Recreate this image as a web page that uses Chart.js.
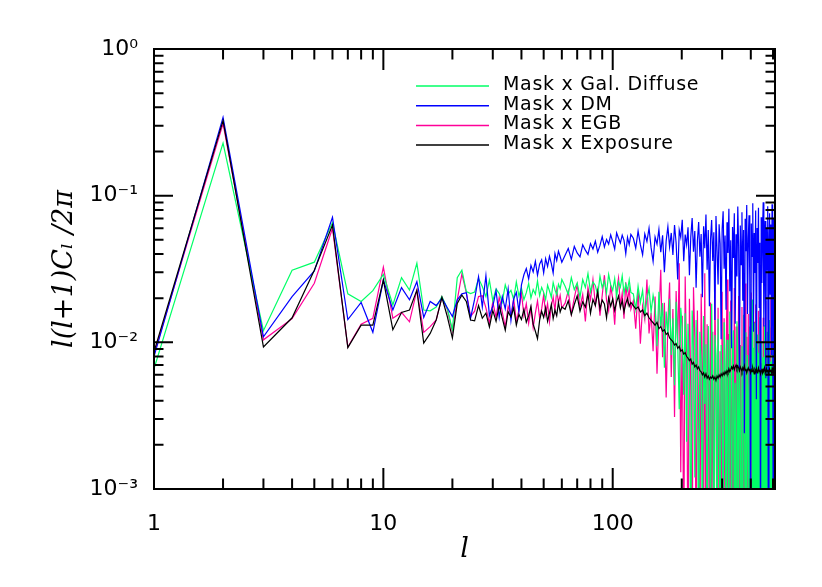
<!DOCTYPE html>
<html>
<head>
<meta charset="utf-8">
<script src="https://cdn.jsdelivr.net/npm/chart.js@4.4.1/dist/chart.umd.min.js"></script>
<style>
  body { margin: 0; background: #fff; }
  canvas { display: block; }
</style>
</head>
<body>
<canvas id="chart" width="822" height="587"></canvas>
<script>
// multipoles l
var ells = [
  1,2,3,4,5,6,7,8,9,10,11,12,13,14,15,16,17,18,19,20,
  21,22,23,24,25,26,27,28,29,30,31,32,33,34,35,36,37,38,39,40,
  41,42,43,44,45,46,47,48,49,50,51,52,53,54,55,56,57,58,59,60,
  62,64,66,68,70,72,74,76,78,80,82,84,86,88,90,92,94,96,98,100,
  102,104,106,108,110,112,114,116,118,120,
  123,126,129,132,135,138,141,144,147,150, 153,156,159,162,165,168,171,174,177,180,
  183,186,189,192,195,198,201,204,207,210, 213,216,219,222,225,228,231,234,237,240,
  243,246,249,252,255,258,261,264,267,270, 273,276,279,282,285,288,291,294,297,300,
  303,306,309,312,315,318,321,324,327,330, 333,336,339,342,345,348,351,354,357,360,
  363,366,369,372,375,378,381,384,387,390, 393,396,399,402,405,408,411,414,417,420,
  423,426,429,432,435,438,441,444,447,450, 453,456,459,462,465,468,471,474,477,480,
  483,486,489,492,495,498,501,504,507,510
];

// Mask x Gal. Diffuse
var galDiffuse = [
  0.0066, 0.228, 0.0120, 0.0310, 0.0352, 0.0655, 0.0214, 0.0190, 0.0225, 0.0290,
  0.0180, 0.0276, 0.0227, 0.0346, 0.0166, 0.0164, 0.0174, 0.0205, 0.0170, 0.0122,
  0.0276, 0.0311, 0.0222, 0.0215, 0.0220, 0.0273, 0.0240, 0.0205, 0.0265, 0.0192,
  0.0231, 0.0215, 0.0188, 0.0247, 0.0213, 0.0226, 0.0196, 0.0258, 0.0207, 0.0234,
  0.0195, 0.0218, 0.0252, 0.0201, 0.0229, 0.0213, 0.0262, 0.0208, 0.0237, 0.0219,
  0.0196, 0.0245, 0.0224, 0.0203, 0.0256, 0.0228, 0.0211, 0.0249, 0.0232, 0.0268,
  0.0241, 0.0212, 0.0276, 0.0229, 0.0254, 0.0203, 0.0268, 0.0237, 0.0295, 0.0221,
  0.0258, 0.0244, 0.0209, 0.0283, 0.0236, 0.0262, 0.0218, 0.0291, 0.0247, 0.0226,
  0.0272, 0.0205, 0.0259, 0.0238, 0.0284, 0.0215, 0.0249, 0.0226, 0.0267, 0.0219,
  0.0214, 0.0168, 0.0241, 0.0187, 0.0226, 0.0152, 0.0198, 0.0233, 0.0161, 0.0209,
  0.0176, 0.0094, 0.0221, 0.0128, 0.0185, 0.0067, 0.0162, 0.0113, 0.0198, 0.0082,
  0.0146, 0.0051, 0.0189, 0.0098, 0.0035, 0.0172, 0.0123, 0.0044, 0.0158, 0.0021,
  0.0134, 0.0068, 0.0003, 0.0165, 0.0089, 0.0012, 0.0142, 0.0056, 0.0003, 0.0118,
  0.0074, 0.0003, 0.0151, 0.0038, 0.0097, 0.0003, 0.0129, 0.0061, 0.0003, 0.0183,
  0.0047, 0.0003, 0.0112, 0.0081, 0.0003, 0.0145, 0.0026, 0.0003, 0.0096, 0.0058,
  0.0003, 0.0137, 0.0069, 0.0003, 0.0104, 0.0017, 0.0003, 0.0162, 0.0043, 0.0003,
  0.0088, 0.0121, 0.0003, 0.0053, 0.0003, 0.0139, 0.0076, 0.0003, 0.0108, 0.0031,
  0.0003, 0.0094, 0.0003, 0.0154, 0.0064, 0.0003, 0.0117, 0.0003, 0.0082, 0.0045,
  0.0003, 0.0128, 0.0003, 0.0071, 0.0196, 0.0003, 0.0092, 0.0003, 0.0136, 0.0058,
  0.0003, 0.0113, 0.0003, 0.0085, 0.0003, 0.0148, 0.0037, 0.0003, 0.0102, 0.0003,
  0.0079, 0.0003, 0.0131, 0.0003, 0.0066, 0.0003, 0.0118, 0.0003, 0.0091, 0.0003,
  0.0142, 0.0003, 0.0074, 0.0003, 0.0108, 0.0003, 0.0061, 0.0003, 0.0125, 0.0003
];

// Mask x DM
var dm = [
  0.0080, 0.342, 0.0109, 0.0205, 0.0307, 0.0713, 0.0143, 0.0187, 0.0117, 0.0266,
  0.0166, 0.0236, 0.0195, 0.0259, 0.0148, 0.0190, 0.0178, 0.0200, 0.0172, 0.0150,
  0.0195, 0.0214, 0.0218, 0.0146, 0.0197, 0.0280, 0.0174, 0.0285, 0.0152, 0.0176,
  0.0224, 0.0148, 0.0205, 0.0169, 0.0231, 0.0141, 0.0198, 0.0219, 0.0162, 0.0247,
  0.0289, 0.0318, 0.0271, 0.0335, 0.0302, 0.0356, 0.0287, 0.0341, 0.0365, 0.0298,
  0.0372, 0.0329, 0.0386, 0.0344, 0.0297, 0.0403, 0.0362, 0.0418, 0.0385, 0.0351,
  0.0392, 0.0436, 0.0368, 0.0451, 0.0407, 0.0383, 0.0462, 0.0425, 0.0398, 0.0471,
  0.0433, 0.0489, 0.0412, 0.0458, 0.0526, 0.0447, 0.0503, 0.0468, 0.0541, 0.0486,
  0.0432, 0.0557, 0.0512, 0.0475, 0.0538, 0.0496, 0.0402, 0.0519, 0.0463, 0.0545,
  0.0512, 0.0438, 0.0574, 0.0463, 0.0395, 0.0548, 0.0487, 0.0601, 0.0442, 0.0356,
  0.0523, 0.0467, 0.0589, 0.0412, 0.0536, 0.0301, 0.0492, 0.0615, 0.0448, 0.0557,
  0.0394, 0.0631, 0.0476, 0.0268, 0.0582, 0.0519, 0.0685, 0.0357, 0.0543, 0.0462,
  0.0608, 0.0287, 0.0526, 0.0704, 0.0415, 0.0573, 0.0236, 0.0491, 0.0662, 0.0384,
  0.0547, 0.0203, 0.0619, 0.0438, 0.0745, 0.0312, 0.0584, 0.0176, 0.0502, 0.0681,
  0.0359, 0.0563, 0.0142, 0.0727, 0.0426, 0.0248, 0.0638, 0.0471, 0.0105, 0.0592,
  0.0783, 0.0318, 0.0534, 0.0167, 0.0659, 0.0406, 0.0814, 0.0223, 0.0497, 0.0091,
  0.0612, 0.0376, 0.0758, 0.0134, 0.0545, 0.0281, 0.0842, 0.0452, 0.0063, 0.0626,
  0.0339, 0.0771, 0.0192, 0.0583, 0.0024, 0.0695, 0.0418, 0.0865, 0.0156, 0.0514,
  0.0734, 0.0262, 0.0003, 0.0647, 0.0385, 0.0889, 0.0118, 0.0556, 0.0297, 0.0792,
  0.0041, 0.0603, 0.0347, 0.0826, 0.0173, 0.0478, 0.0003, 0.0712, 0.0254, 0.0568,
  0.0903, 0.0128, 0.0435, 0.0671, 0.0057, 0.0592, 0.0312, 0.0847, 0.0003, 0.0496,
  0.0758, 0.0213, 0.0637, 0.0082, 0.0874, 0.0389, 0.0003, 0.0695, 0.0268, 0.0543
];

// Mask x EGB
var egb = [
  0.0083, 0.310, 0.0104, 0.0145, 0.0253, 0.0600, 0.0093, 0.0133, 0.0146, 0.0326,
  0.0146, 0.0160, 0.0138, 0.0227, 0.0117, 0.0128, 0.0142, 0.0203, 0.0168, 0.0118,
  0.0195, 0.0293, 0.0218, 0.0150, 0.0163, 0.0205, 0.0208, 0.0172, 0.0135, 0.0189,
  0.0148, 0.0203, 0.0161, 0.0127, 0.0176, 0.0154, 0.0198, 0.0139, 0.0166, 0.0218,
  0.0152, 0.0183, 0.0135, 0.0171, 0.0126, 0.0158, 0.0192, 0.0147, 0.0169, 0.0211,
  0.0155, 0.0184, 0.0138, 0.0176, 0.0203, 0.0164, 0.0228, 0.0187, 0.0209, 0.0171,
  0.0185, 0.0224, 0.0156, 0.0201, 0.0248, 0.0173, 0.0212, 0.0139, 0.0236, 0.0195,
  0.0268, 0.0181, 0.0227, 0.0152, 0.0209, 0.0287, 0.0193, 0.0164, 0.0241, 0.0198,
  0.0132, 0.0225, 0.0274, 0.0178, 0.0216, 0.0145, 0.0257, 0.0189, 0.0231, 0.0168,
  0.0192, 0.0124, 0.0231, 0.0098, 0.0176, 0.0143, 0.0268, 0.0115, 0.0159, 0.0087,
  0.0205, 0.0061, 0.0148, 0.0312, 0.0079, 0.0186, 0.0042, 0.0137, 0.0256, 0.0058,
  0.0169, 0.0031, 0.0224, 0.0095, 0.0346, 0.0013, 0.0152, 0.0003, 0.0281, 0.0072,
  0.0003, 0.0198, 0.0047, 0.0003, 0.0237, 0.0108, 0.0003, 0.0165, 0.0025, 0.0003,
  0.0214, 0.0069, 0.0003, 0.0296, 0.0003, 0.0133, 0.0052, 0.0003, 0.0187, 0.0003,
  0.0118, 0.0003, 0.0249, 0.0036, 0.0003, 0.0172, 0.0003, 0.0087, 0.0003, 0.0221,
  0.0003, 0.0146, 0.0003, 0.0059, 0.0268, 0.0003, 0.0114, 0.0003, 0.0193, 0.0003,
  0.0077, 0.0003, 0.0235, 0.0003, 0.0128, 0.0003, 0.0041, 0.0207, 0.0003, 0.0096,
  0.0003, 0.0174, 0.0003, 0.0063, 0.0003, 0.0252, 0.0003, 0.0109, 0.0003, 0.0156,
  0.0003, 0.0084, 0.0003, 0.0219, 0.0003, 0.0047, 0.0003, 0.0138, 0.0003, 0.0181,
  0.0003, 0.0099, 0.0003, 0.0164, 0.0003, 0.0035, 0.0226, 0.0003, 0.0072, 0.0003,
  0.0147, 0.0003, 0.0058, 0.0003, 0.0191, 0.0003, 0.0103, 0.0003, 0.0031, 0.0003,
  0.0126, 0.0003, 0.0204, 0.0003, 0.0068, 0.0003, 0.0152, 0.0003, 0.0089, 0.0003
];

// Mask x Exposure
var exposure = [
  0.0086, 0.325, 0.0093, 0.0147, 0.0310, 0.0630, 0.0092, 0.0131, 0.0131, 0.0266,
  0.0122, 0.0160, 0.0166, 0.0227, 0.0099, 0.0115, 0.0142, 0.0203, 0.0150, 0.0107,
  0.0184, 0.0210, 0.0190, 0.0142, 0.0140, 0.0178, 0.0146, 0.0158, 0.0127, 0.0165,
  0.0139, 0.0178, 0.0146, 0.0121, 0.0162, 0.0149, 0.0172, 0.0131, 0.0155, 0.0143,
  0.0168, 0.0137, 0.0152, 0.0176, 0.0133, 0.0119, 0.0106, 0.0141, 0.0163, 0.0148,
  0.0172, 0.0139, 0.0158, 0.0181, 0.0145, 0.0166, 0.0152, 0.0187, 0.0161, 0.0174,
  0.0168, 0.0192, 0.0154, 0.0181, 0.0207, 0.0163, 0.0189, 0.0174, 0.0215, 0.0158,
  0.0196, 0.0178, 0.0221, 0.0169, 0.0194, 0.0183, 0.0147, 0.0201, 0.0176, 0.0198,
  0.0165, 0.0189, 0.0207, 0.0172, 0.0193, 0.0161, 0.0184, 0.0199, 0.0176, 0.0187,
  0.0178, 0.0169, 0.0174, 0.0161, 0.0166, 0.0152, 0.0158, 0.0147, 0.0141, 0.0136,
  0.0131, 0.0137, 0.0124, 0.0128, 0.0119, 0.0122, 0.0113, 0.0116, 0.0107, 0.0104,
  0.0101, 0.0096, 0.0098, 0.0091, 0.0094, 0.0087, 0.0089, 0.0083, 0.0085, 0.0080,
  0.0078, 0.0075, 0.0077, 0.0071, 0.0073, 0.0068, 0.0070, 0.0066, 0.0068, 0.0064,
  0.0063, 0.0060, 0.0062, 0.0058, 0.0061, 0.0057, 0.0059, 0.0056, 0.0058, 0.0057,
  0.0059, 0.0056, 0.0058, 0.0055, 0.0059, 0.0057, 0.0060, 0.0058, 0.0061, 0.0059,
  0.0062, 0.0060, 0.0063, 0.0061, 0.0064, 0.0062, 0.0066, 0.0063, 0.0065, 0.0068,
  0.0066, 0.0069, 0.0065, 0.0068, 0.0070, 0.0066, 0.0069, 0.0067, 0.0064, 0.0068,
  0.0066, 0.0063, 0.0067, 0.0065, 0.0069, 0.0064, 0.0066, 0.0062, 0.0065, 0.0067,
  0.0064, 0.0066, 0.0062, 0.0065, 0.0063, 0.0067, 0.0064, 0.0061, 0.0065, 0.0063,
  0.0066, 0.0062, 0.0064, 0.0067, 0.0063, 0.0065, 0.0061, 0.0064, 0.0066, 0.0062,
  0.0065, 0.0063, 0.0067, 0.0064, 0.0062, 0.0066, 0.0063, 0.0065, 0.0061, 0.0064,
  0.0066, 0.0063, 0.0065, 0.0062, 0.0066, 0.0064, 0.0067, 0.0063, 0.0065, 0.0066
];

// axis ticks
var xMajor = [1, 10, 100];
var xMajorLabels = ['1', '10', '100'];
var xMinor = [2, 3, 4, 5, 6, 7, 8, 9, 20, 30, 40, 50, 60, 70, 80, 90, 200, 300, 400, 500];
var yMajor = [0.001, 0.01, 0.1, 1];
var yMajorLabels = ['10\u207B\u00B3', '10\u207B\u00B2', '10\u207B\u00B9', '10\u2070'];
var yMinor = [0.002, 0.003, 0.004, 0.005, 0.006, 0.007, 0.008, 0.009,
              0.02, 0.03, 0.04, 0.05, 0.06, 0.07, 0.08, 0.09,
              0.2, 0.3, 0.4, 0.5, 0.6, 0.7, 0.8, 0.9];

function pts(vals) {
  return ells.map(function (l, i) { return { x: l, y: vals[i] }; });
}

function tickList(major, minor) {
  return major.concat(minor).sort(function (a, b) { return a - b; })
    .map(function (v) { return { value: v }; });
}

// box with inward ticks on all four sides (IDL style)
var framePlugin = {
  id: 'frame',
  afterDatasetsDraw: function (chart) {
    var ctx = chart.ctx, a = chart.chartArea;
    var sx = chart.scales.x, sy = chart.scales.y;
    ctx.save();
    ctx.strokeStyle = '#000';
    ctx.lineWidth = 2;
    ctx.strokeRect(a.left, a.top, a.right - a.left, a.bottom - a.top);
    ctx.beginPath();
    sx.ticks.forEach(function (t) {
      var x = sx.getPixelForValue(t.value);
      var len = xMajor.indexOf(t.value) >= 0 ? 21 : 10.5;
      ctx.moveTo(x, a.bottom); ctx.lineTo(x, a.bottom - len);
      ctx.moveTo(x, a.top); ctx.lineTo(x, a.top + len);
    });
    sy.ticks.forEach(function (t) {
      var y = sy.getPixelForValue(t.value);
      var len = yMajor.indexOf(t.value) >= 0 ? 19 : 9.5;
      ctx.moveTo(a.left, y); ctx.lineTo(a.left + len, y);
      ctx.moveTo(a.right, y); ctx.lineTo(a.right - len, y);
    });
    ctx.stroke();
    ctx.restore();
  }
};

var legendPlugin = {
  id: 'boxLegend',
  afterDraw: function (chart) {
    var ctx = chart.ctx;
    ctx.save();
    ctx.font = '19px "DejaVu Sans"';
    ctx.textBaseline = 'middle';
    ctx.letterSpacing = '0.7px';
    chart.data.datasets.forEach(function (ds, i) {
      var y = 86 + i * 19.7;
      ctx.strokeStyle = ds.borderColor;
      ctx.lineWidth = 1.5;
      ctx.beginPath();
      ctx.moveTo(416, y); ctx.lineTo(489, y);
      ctx.stroke();
      ctx.fillStyle = '#000';
      ctx.fillText(ds.label, 503, y - 1);
    });
    ctx.restore();
  }
};

new Chart(document.getElementById('chart'), {
  type: 'line',
  data: {
    datasets: [
      { label: 'Mask x Gal. Diffuse', data: pts(galDiffuse), borderColor: '#00ff66', order: 2 },
      { label: 'Mask x DM', data: pts(dm), borderColor: '#0000ff', order: 1 },
      { label: 'Mask x EGB', data: pts(egb), borderColor: '#ff0099', order: 3 },
      { label: 'Mask x Exposure', data: pts(exposure), borderColor: '#000000', order: 0 }
    ]
  },
  options: {
    responsive: false,
    devicePixelRatio: 1,
    animation: false,
    events: [],
    layout: { padding: { left: 0, right: 47, top: 49, bottom: 0 } },
    elements: {
      point: { radius: 0 },
      line: { borderWidth: 1.2, tension: 0 }
    },
    plugins: { legend: { display: false }, tooltip: { enabled: false } },
    scales: {
      x: {
        type: 'logarithmic',
        min: 1,
        max: 510,
        grid: { display: false },
        border: { display: false },
        afterBuildTicks: function (s) { s.ticks = tickList(xMajor, xMinor); },
        afterFit: function (s) { s.height = 98; },
        ticks: {
          autoSkip: false,
          maxRotation: 0,
          padding: 14,
          color: '#000',
          font: { family: 'DejaVu Sans', size: 22 },
          callback: function (v) {
            var i = xMajor.indexOf(v);
            return i >= 0 ? xMajorLabels[i] : '';
          }
        },
        title: {
          display: true,
          text: 'l',
          color: '#000',
          font: { family: 'DejaVu Serif', size: 27, style: 'italic' },
          padding: { top: 0, bottom: 21 }
        }
      },
      y: {
        type: 'logarithmic',
        min: 0.001,
        max: 1,
        grid: { display: false },
        border: { display: false },
        afterBuildTicks: function (s) { s.ticks = tickList(yMajor, yMinor); },
        afterFit: function (s) { s.width = 154; },
        ticks: {
          autoSkip: false,
          padding: 8,
          color: '#000',
          font: { family: 'DejaVu Sans', size: 22 },
          callback: function (v) {
            var i = yMajor.indexOf(v);
            return i >= 0 ? yMajorLabels[i] : '';
          }
        },
        title: {
          display: true,
          text: 'l(l+1)C\u2097 /2\u03C0',
          color: '#000',
          font: { family: 'DejaVu Serif', size: 27, style: 'italic' },
          padding: { top: 49, bottom: 0 }
        }
      }
    }
  },
  plugins: [framePlugin, legendPlugin]
});
</script>
</body>
</html>
